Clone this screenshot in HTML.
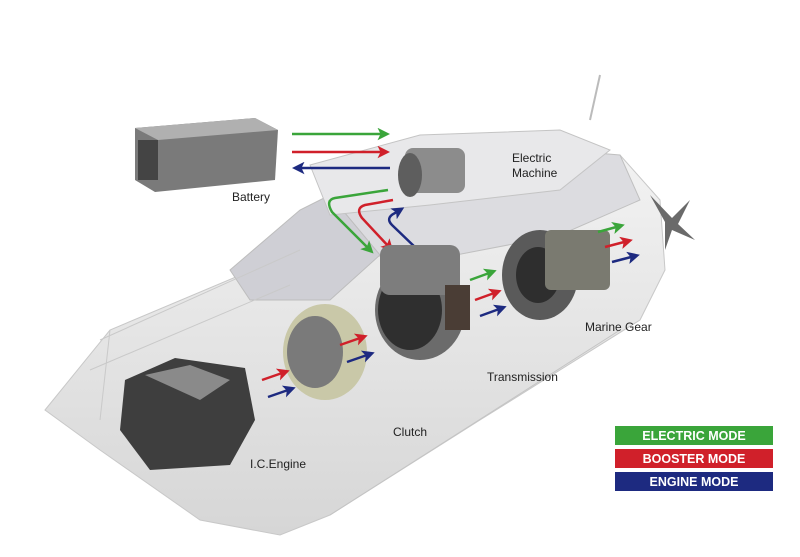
<!DOCTYPE html>
<html><head><meta charset="utf-8"><style>
html,body{margin:0;padding:0;background:#fff;}
svg{display:block;font-family:"Liberation Sans",Arial,sans-serif;}
</style></head><body>
<svg width="800" height="557" viewBox="0 0 800 557" xmlns="http://www.w3.org/2000/svg">
<defs>
<marker id="ag" markerWidth="5" markerHeight="5" refX="3" refY="2.5" orient="auto"><path d="M0,0 L5,2.5 L0,5 L1.2,2.5 z" fill="#3aa53a"/></marker>
<marker id="ar" markerWidth="5" markerHeight="5" refX="3" refY="2.5" orient="auto"><path d="M0,0 L5,2.5 L0,5 L1.2,2.5 z" fill="#d0202a"/></marker>
<marker id="ab" markerWidth="5" markerHeight="5" refX="3" refY="2.5" orient="auto"><path d="M0,0 L5,2.5 L0,5 L1.2,2.5 z" fill="#1d2a80"/></marker>
<linearGradient id="hull" x1="0" y1="0" x2="0" y2="1"><stop offset="0" stop-color="#f2f2f2"/><stop offset="1" stop-color="#d6d6d6"/></linearGradient>
</defs>
<!-- hull -->
<path d="M45,410 L110,330 L300,250 L480,170 L620,155 L660,200 L665,270 L640,320 L480,420 L330,515 L280,535 L200,520 L100,450 Z" fill="url(#hull)" stroke="#c8c8c8"/>
<path d="M300,250 L330,195 L400,165 L560,150 L620,155 L640,200 L560,235 L430,260 Z" fill="#dcdce0" stroke="#c0c0c0"/>
<path d="M230,270 L300,210 L330,195 L380,255 L330,300 L250,300 Z" fill="#cfcfd5" stroke="#bdbdbd"/>
<path d="M310,165 L420,135 L560,130 L610,150 L560,190 L430,205 L330,215 Z" fill="#e8e8ea" stroke="#c4c4c4"/>
<path d="M100,340 L300,250 M90,370 L290,285 M110,330 L100,420" stroke="#c9c9c9" fill="none"/>
<path d="M330,515 L620,330" stroke="#c4c4c4" fill="none"/>
<line x1="600" y1="75" x2="590" y2="120" stroke="#bbb" stroke-width="2"/>
<!-- battery -->
<path d="M135,128 L255,118 L278,130 L275,180 L155,192 L135,180 Z" fill="#7a7a7a"/>
<path d="M135,128 L255,118 L278,130 L158,140 Z" fill="#b0b0b0"/>
<rect x="138" y="140" width="20" height="40" fill="#444"/>
<text x="232" y="201" font-size="12" fill="#222">Battery</text>
<!-- electric machine -->
<rect x="405" y="148" width="60" height="45" rx="8" fill="#8c8c8c"/>
<ellipse cx="410" cy="175" rx="12" ry="22" fill="#5e5e5e"/>
<text x="512" y="162" font-size="12" fill="#222">Electric</text>
<text x="512" y="177" font-size="12" fill="#222">Machine</text>
<!-- arrows battery/machine -->
<line x1="292" y1="134" x2="385" y2="134" stroke="#3aa53a" stroke-width="2.5" marker-end="url(#ag)"/>
<line x1="292" y1="152" x2="385" y2="152" stroke="#d0202a" stroke-width="2.5" marker-end="url(#ar)"/>
<line x1="390" y1="168" x2="297" y2="168" stroke="#1d2a80" stroke-width="2.5" marker-end="url(#ab)"/>
<path d="M388,190 L335,198 Q325,200 332,212 L370,250" stroke="#3aa53a" stroke-width="2.5" fill="none" marker-end="url(#ag)"/>
<path d="M393,200 L365,205 Q355,208 362,218 L390,248" stroke="#d0202a" stroke-width="2.5" fill="none" marker-end="url(#ar)"/>
<path d="M418,250 L392,225 Q385,218 395,213 L400,210" stroke="#1d2a80" stroke-width="2.5" fill="none" marker-end="url(#ab)"/>
<!-- transmission -->
<ellipse cx="420" cy="310" rx="45" ry="50" fill="#6b6b6b"/>
<ellipse cx="410" cy="310" rx="32" ry="40" fill="#2f2f2f"/>
<rect x="380" y="245" width="80" height="50" rx="10" fill="#7d7d7d"/>
<rect x="445" y="285" width="25" height="45" fill="#4a3d35"/>
<text x="487" y="381" font-size="12" fill="#222">Transmission</text>
<!-- clutch -->
<ellipse cx="325" cy="352" rx="42" ry="48" fill="#c9c8a8"/>
<ellipse cx="315" cy="352" rx="28" ry="36" fill="#7a7a7a"/>
<text x="393" y="436" font-size="12" fill="#222">Clutch</text>
<!-- engine -->
<path d="M125,380 L175,358 L245,368 L255,420 L230,465 L150,470 L120,430 Z" fill="#3e3e3e"/>
<path d="M145,375 L190,365 L230,380 L200,400 Z" fill="#8a8a8a"/>
<text x="250" y="468" font-size="12" fill="#222">I.C.Engine</text>
<!-- marine gear -->
<ellipse cx="540" cy="275" rx="38" ry="45" fill="#5a5a5a"/>
<ellipse cx="538" cy="275" rx="22" ry="28" fill="#2e2e2e"/>
<rect x="545" y="230" width="65" height="60" rx="6" fill="#7a7a70"/>
<text x="585" y="331" font-size="12" fill="#222">Marine Gear</text>
<!-- propeller -->
<path d="M665,222 L650,195 L672,218 L690,200 L678,224 L695,240 L672,230 L665,250 Z" fill="#6a6a6a"/>
<!-- small arrows -->
<g stroke-width="2.5">
<line x1="262" y1="380" x2="285" y2="372" stroke="#d0202a" marker-end="url(#ar)"/>
<line x1="268" y1="397" x2="291" y2="389" stroke="#1d2a80" marker-end="url(#ab)"/>
<line x1="340" y1="345" x2="363" y2="337" stroke="#d0202a" marker-end="url(#ar)"/>
<line x1="347" y1="362" x2="370" y2="354" stroke="#1d2a80" marker-end="url(#ab)"/>
<line x1="470" y1="280" x2="492" y2="272" stroke="#3aa53a" marker-end="url(#ag)"/>
<line x1="475" y1="300" x2="497" y2="292" stroke="#d0202a" marker-end="url(#ar)"/>
<line x1="480" y1="316" x2="502" y2="308" stroke="#1d2a80" marker-end="url(#ab)"/>
<line x1="598" y1="232" x2="620" y2="226" stroke="#3aa53a" marker-end="url(#ag)"/>
<line x1="605" y1="247" x2="628" y2="241" stroke="#d0202a" marker-end="url(#ar)"/>
<line x1="612" y1="262" x2="635" y2="256" stroke="#1d2a80" marker-end="url(#ab)"/>
</g>
<!-- legend -->
<rect x="615" y="426" width="158" height="19" fill="#3aa53a"/>
<rect x="615" y="449" width="158" height="19" fill="#d0202a"/>
<rect x="615" y="472" width="158" height="19" fill="#1d2a80"/>
<g font-size="12.5" font-weight="bold" fill="#fff" text-anchor="middle">
<text x="694" y="440">ELECTRIC MODE</text>
<text x="694" y="463">BOOSTER MODE</text>
<text x="694" y="486">ENGINE MODE</text>
</g>
</svg>
</body></html>
